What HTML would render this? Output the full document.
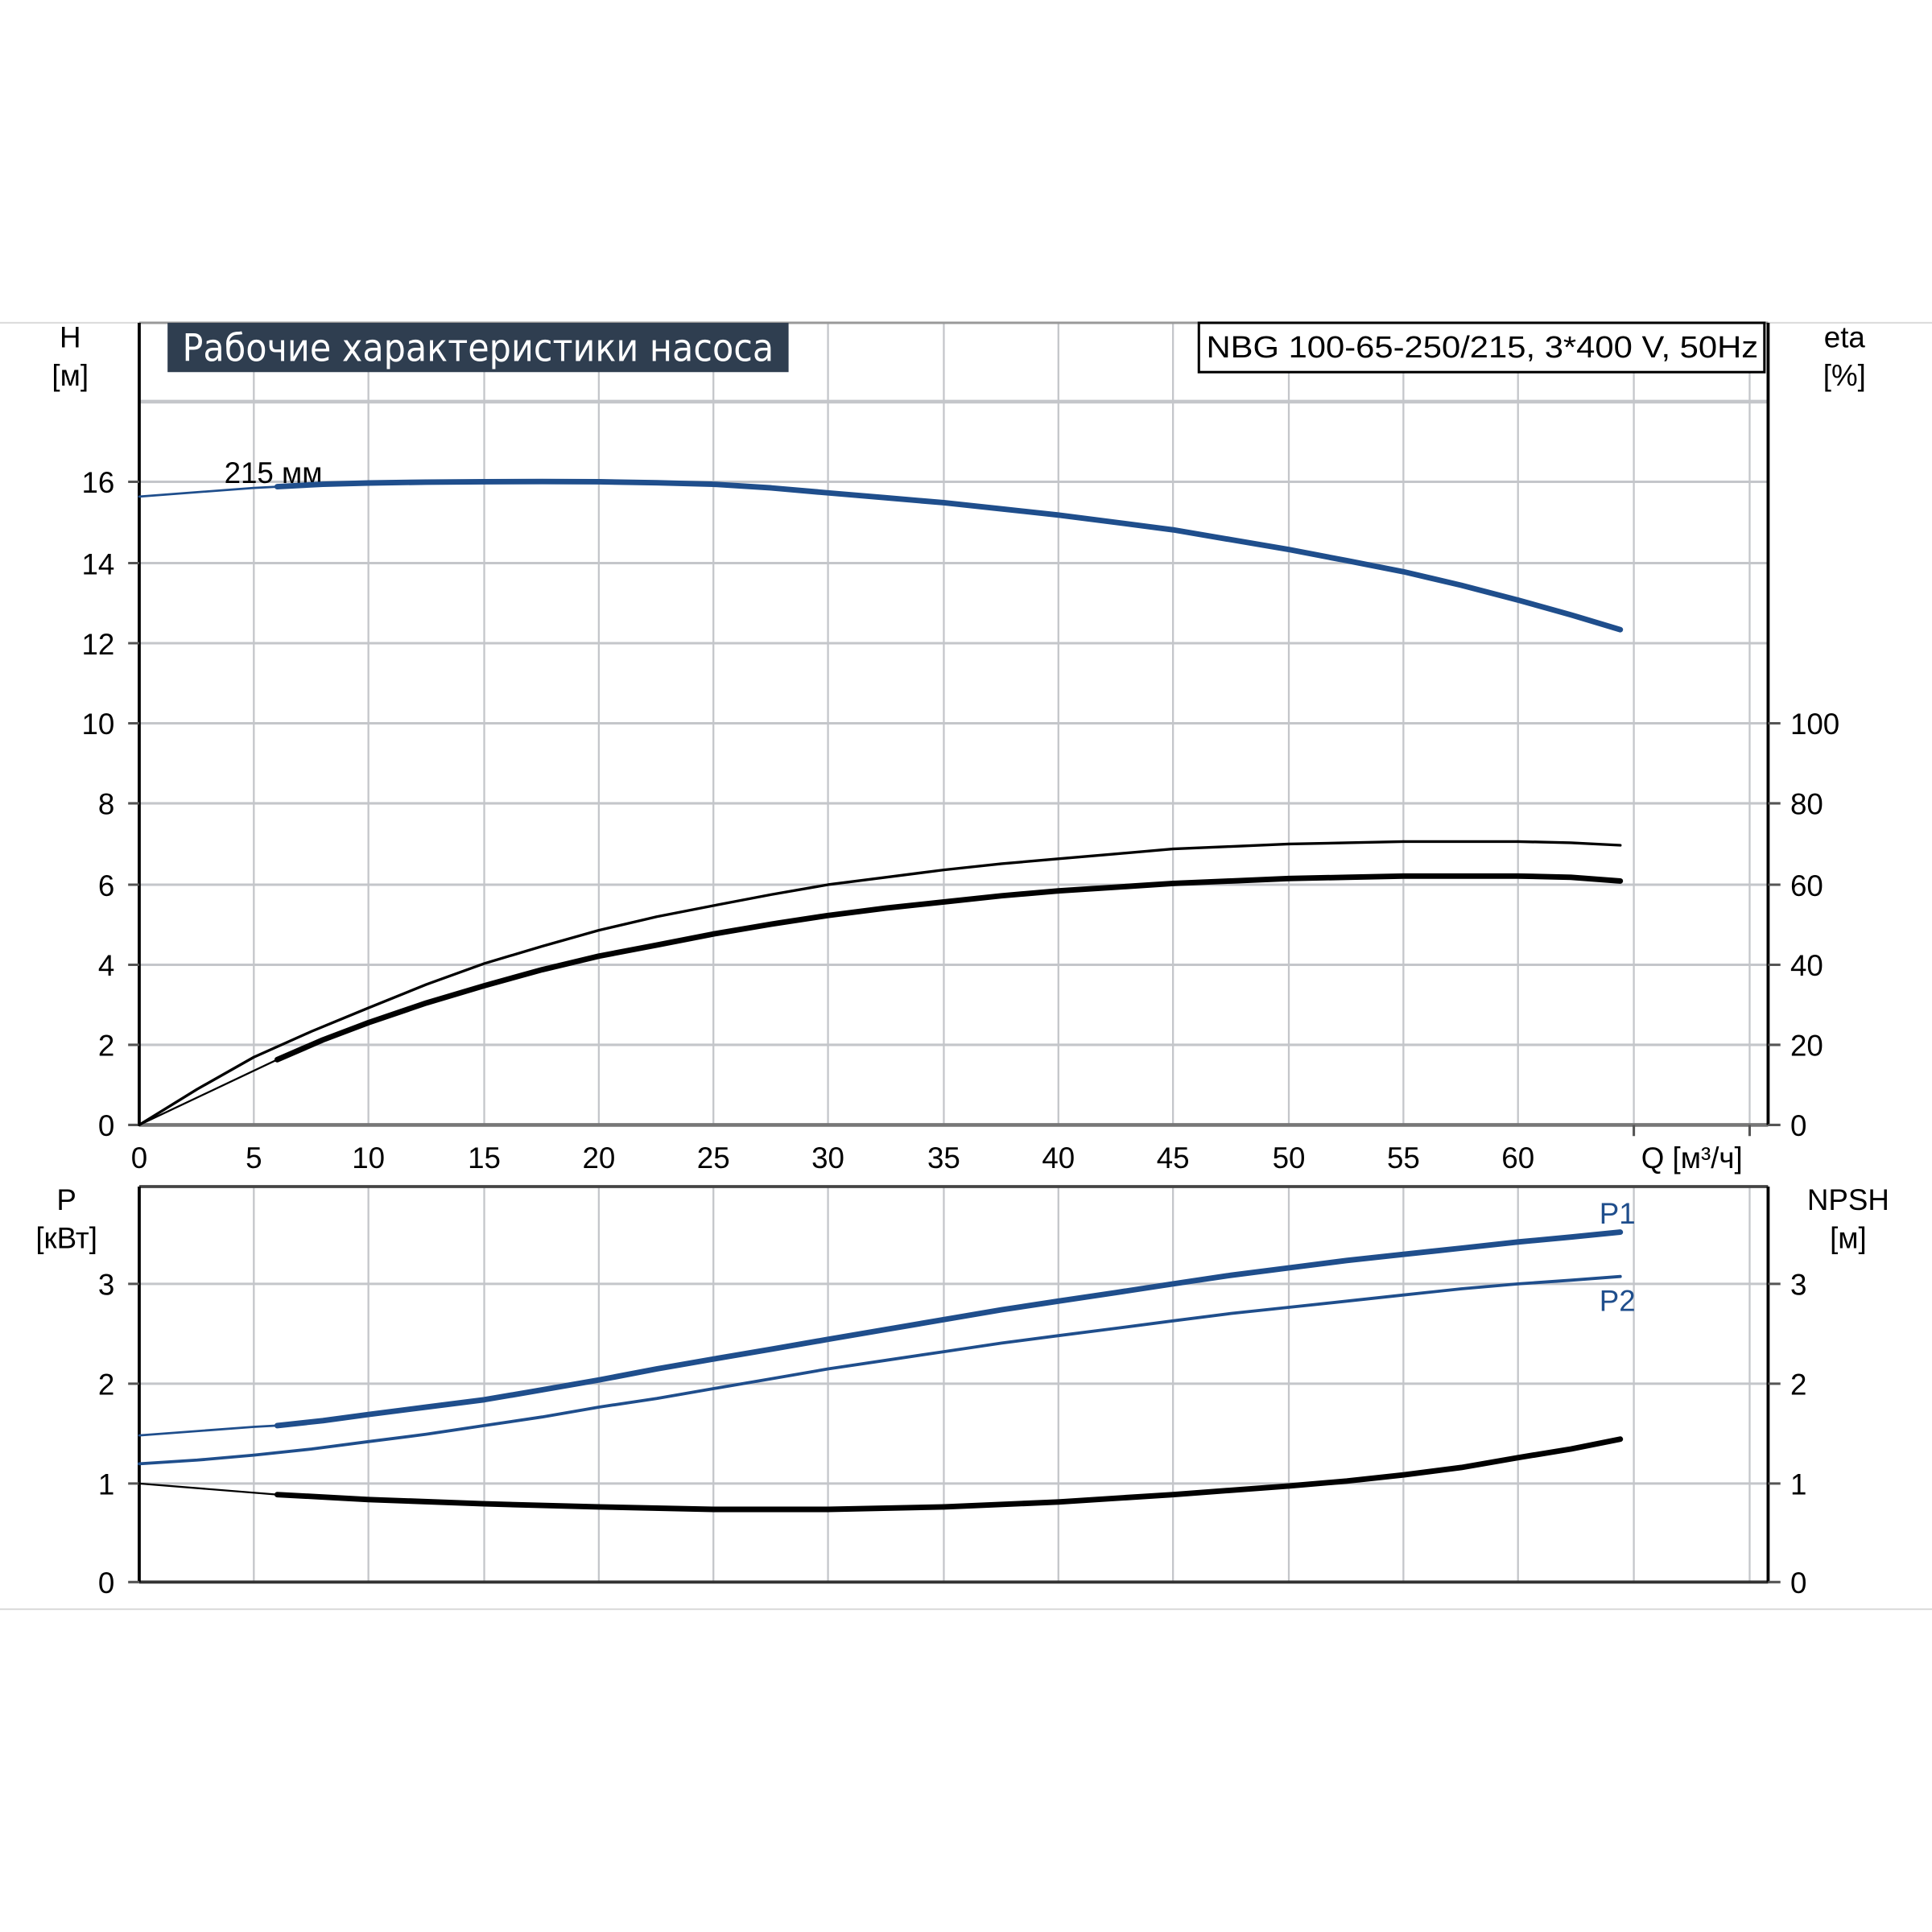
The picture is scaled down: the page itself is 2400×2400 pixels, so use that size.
<!DOCTYPE html>
<html><head><meta charset="utf-8"><style>html,body{margin:0;padding:0;background:#fff}svg{display:block}</style></head>
<body>
<svg width="2400" height="2400" viewBox="0 0 1568 1568" xmlns="http://www.w3.org/2000/svg" font-family="Liberation Sans, DejaVu Sans, sans-serif">
<rect width="1568" height="1568" fill="#fff"/>
<line x1="0" y1="262" x2="1568" y2="262" stroke="#ddd" stroke-width="1.5"/>
<line x1="0" y1="1306" x2="1568" y2="1306" stroke="#ddd" stroke-width="1.5"/>
<g stroke="#c4c6ca" stroke-width="2">
<line x1="113" y1="326" x2="1435" y2="326" stroke-width="3"/>
<line x1="113" y1="391" x2="1435" y2="391"/>
<line x1="113" y1="457" x2="1435" y2="457"/>
<line x1="113" y1="522" x2="1435" y2="522"/>
<line x1="113" y1="587" x2="1435" y2="587"/>
<line x1="113" y1="652" x2="1435" y2="652"/>
<line x1="113" y1="718" x2="1435" y2="718"/>
<line x1="113" y1="783" x2="1435" y2="783"/>
<line x1="113" y1="848" x2="1435" y2="848"/>
<line x1="113" y1="1042" x2="1435" y2="1042"/>
<line x1="113" y1="1123" x2="1435" y2="1123"/>
<line x1="113" y1="1204" x2="1435" y2="1204"/>
</g>
<g stroke="#c4c6ca" stroke-width="1.5">
<path d="M206 262V913M299 262V913M393 262V913M486 262V913M579 262V913M672 262V913M766 262V913M859 262V913M952 262V913M1046 262V913M1139 262V913M1232 262V913M1326 262V913M1420 262V913"/>
<path d="M206 963V1284M299 963V1284M393 963V1284M486 963V1284M579 963V1284M672 963V1284M766 963V1284M859 963V1284M952 963V1284M1046 963V1284M1139 963V1284M1232 963V1284M1326 963V1284M1420 963V1284"/>
</g>
<line x1="113" y1="262" x2="1435" y2="262" stroke="#999" stroke-width="2"/>
<line x1="113" y1="913" x2="1435" y2="913" stroke="#777" stroke-width="3"/>
<line x1="113" y1="963" x2="1435" y2="963" stroke="#444" stroke-width="2.5"/>
<line x1="113" y1="1284" x2="1435" y2="1284" stroke="#333" stroke-width="2.5"/>
<g stroke="#000" stroke-width="2.5">
<line x1="113" y1="262" x2="113" y2="913"/><line x1="1435" y1="262" x2="1435" y2="913"/>
<line x1="113" y1="963" x2="113" y2="1284"/><line x1="1435" y1="963" x2="1435" y2="1284"/>
</g>
<g stroke="#555" stroke-width="2">
<path d="M104 391H113M104 457H113M104 522H113M104 587H113M104 652H113M104 718H113M104 783H113M104 848H113M104 913H113"/>
<path d="M1435 587H1445M1435 652H1445M1435 718H1445M1435 783H1445M1435 848H1445M1435 913H1445"/>
<path d="M104 1042H113M104 1123H113M104 1204H113M104 1284H113M1435 1042H1445M1435 1123H1445M1435 1204H1445M1435 1284H1445"/>
<path d="M1326 913V922M1420 913V922"/>
</g>
<rect x="136" y="262" width="504" height="40" fill="#2f3e50"/>
<text x="388" y="293" fill="#fff" font-size="31" text-anchor="middle" font-family="DejaVu Sans Condensed, DejaVu Sans, sans-serif" textLength="480" lengthAdjust="spacingAndGlyphs">Рабочие характеристики насоса</text>
<rect x="973" y="262" width="459" height="40" fill="#fff" stroke="#000" stroke-width="2"/>
<text x="1203" y="290" font-size="25" text-anchor="middle" textLength="448" lengthAdjust="spacingAndGlyphs">NBG 100-65-250/215, 3*400 V, 50Hz</text>
<g font-size="24" fill="#000">
<text x="57" y="282" text-anchor="middle">H</text><text x="57" y="313" text-anchor="middle">[м]</text>
<text x="1497" y="282" text-anchor="middle">eta</text><text x="1497" y="313" text-anchor="middle">[%]</text>
<text x="54" y="982" text-anchor="middle">P</text><text x="54" y="1013" text-anchor="middle">[кВт]</text>
<text x="1500" y="982" text-anchor="middle">NPSH</text><text x="1500" y="1013" text-anchor="middle">[м]</text>
<g text-anchor="end">
<text x="93" y="400">16</text><text x="93" y="466">14</text><text x="93" y="531">12</text><text x="93" y="596">10</text><text x="93" y="661">8</text><text x="93" y="727">6</text><text x="93" y="792">4</text><text x="93" y="857">2</text><text x="93" y="922">0</text>
<text x="93" y="1051">3</text><text x="93" y="1132">2</text><text x="93" y="1213">1</text><text x="93" y="1293">0</text>
</g>
<text x="1453" y="596">100</text><text x="1453" y="661">80</text><text x="1453" y="727">60</text><text x="1453" y="792">40</text><text x="1453" y="857">20</text><text x="1453" y="922">0</text>
<text x="1453" y="1051">3</text><text x="1453" y="1132">2</text><text x="1453" y="1213">1</text><text x="1453" y="1293">0</text>
<g text-anchor="middle">
<text x="113" y="948">0</text><text x="206" y="948">5</text><text x="299" y="948">10</text><text x="393" y="948">15</text><text x="486" y="948">20</text><text x="579" y="948">25</text><text x="672" y="948">30</text><text x="766" y="948">35</text><text x="859" y="948">40</text><text x="952" y="948">45</text><text x="1046" y="948">50</text><text x="1139" y="948">55</text><text x="1232" y="948">60</text>
</g>
<text x="1332" y="948">Q [м³/ч]</text>
<text x="182" y="392">215 мм</text>
<text x="1298" y="993" fill="#1f4e8c">P1</text>
<text x="1298" y="1064" fill="#1f4e8c">P2</text>
</g>
<g fill="none" stroke-linecap="round" stroke-linejoin="round">
<path d="M113 403L206 396L225 395" stroke="#1f4e8c" stroke-width="1.8"/>
<path d="M225 395L262 393L299 392L346 391.3L393 391L440 390.8L486 391L533 391.8L579 393L626 396L672 400L719 404L766 408L813 413L859 418L906 424L952 430L999 438L1046 446L1093 455L1139 464L1186 475L1232 487L1275 499L1315 511" stroke="#1f4e8c" stroke-width="4.5"/>
<path d="M113 913L160 884L206 858L253 837L299 818L346 799L393 782L440 768L486 755L533 744L579 735L626 726L672 718L719 712L766 706L813 701L859 697L906 693L952 689L999 687L1046 685L1093 684L1139 683L1186 683L1232 683L1275 684L1315 686" stroke="#000" stroke-width="2.2"/>
<path d="M113 913L225 860" stroke="#000" stroke-width="1.5"/>
<path d="M225 860L262 844L299 830L346 814L393 800L440 787L486 776L533 767L579 758L626 750L672 743L719 737L766 732L813 727L859 723L906 720L952 717L999 715L1046 713L1093 712L1139 711L1186 711L1232 711L1275 712L1315 715" stroke="#000" stroke-width="4.5"/>
<path d="M113 1165L206 1158L225 1157" stroke="#1f4e8c" stroke-width="1.8"/>
<path d="M225 1157L262 1153L299 1148L346 1142L393 1136L440 1128L486 1120L533 1111L579 1103L626 1095L672 1087L719 1079L766 1071L813 1063L859 1056L906 1049L952 1042L999 1035L1046 1029L1093 1023L1139 1018L1186 1013L1232 1008L1275 1004L1315 1000" stroke="#1f4e8c" stroke-width="4.5"/>
<path d="M113 1188L160 1185L206 1181L253 1176L299 1170L346 1164L393 1157L440 1150L486 1142L533 1135L579 1127L626 1119L672 1111L719 1104L766 1097L813 1090L859 1084L906 1078L952 1072L999 1066L1046 1061L1093 1056L1139 1051L1186 1046L1232 1042L1275 1039L1315 1036" stroke="#1f4e8c" stroke-width="2.5"/>
<path d="M113 1204L225 1213" stroke="#000" stroke-width="1.5"/>
<path d="M225 1213L262 1215L299 1217L393 1220.5L486 1223L579 1225L672 1225L766 1223L859 1219L952 1213L1046 1206L1093 1202L1139 1197L1186 1191L1232 1183L1275 1176L1315 1168" stroke="#000" stroke-width="4.5"/>
</g>
</svg>
</body></html>
